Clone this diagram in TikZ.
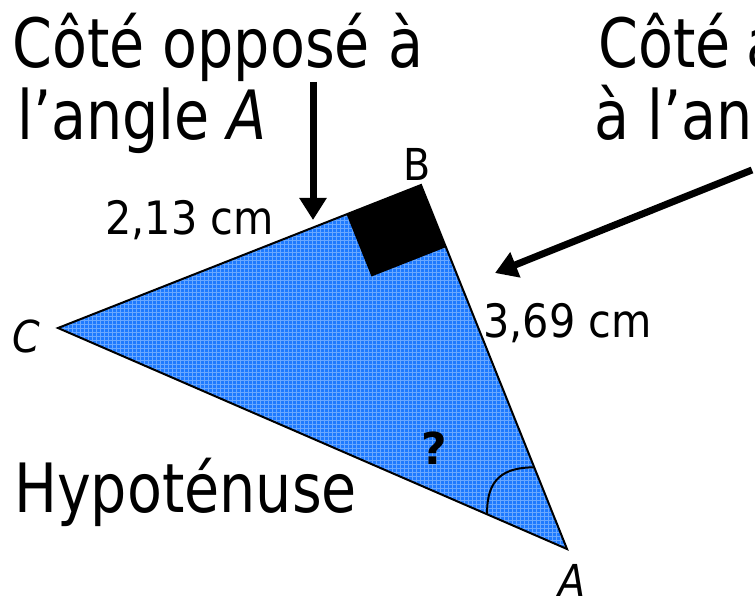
\documentclass[tikz,border=0pt]{standalone}
\usepackage{fontspec}
\setmainfont{DejaVu Sans}
\newfontfamily\csbig[FakeStretch=0.84]{DejaVu Sans}
\newfontfamily\cssmall[FakeStretch=0.9]{DejaVu Sans}
\usetikzlibrary{arrows.meta,calc}
\definecolor{triblue}{RGB}{30,122,255}
\definecolor{gridblue}{RGB}{105,168,255}
\begin{document}
\begin{tikzpicture}[x=1pt,y=-1pt,
  big/.style={font=\csbig\fontsize{68}{80}\selectfont, anchor=base west, inner sep=0pt},
  small/.style={font=\cssmall\fontsize{46}{54}\selectfont, anchor=base west, inner sep=0pt},
  vertex/.style={font=\cssmall\fontsize{44}{50}\selectfont, anchor=base west, inner sep=0pt},
  side/.style={line width=2pt, line join=miter},
  pointer/.style={line width=7pt, -{Triangle[length=22pt,width=26pt]}},
]
\useasboundingbox (0,0) rectangle (755,596);
\clip (0,0) rectangle (755,596);
% vertices
\coordinate (C) at (58,328);
\coordinate (B) at (421,185);
\coordinate (A) at (567,549);
% filled triangle with fine grid texture
\fill[triblue] (A) -- (B) -- (C) -- cycle;
\begin{scope}
  \clip (A) -- (B) -- (C) -- cycle;
  \draw[gridblue, line width=0.5pt] (0,0) grid[step=4pt] (755,596);
\end{scope}
% right angle mark
\coordinate (P1) at ($(B)!80pt!(C)$);
\coordinate (P3) at ($(B)!67pt!(A)$);
\coordinate (P2) at ($(P1)+(P3)-(B)$);
\fill[black] (B) -- (P1) -- (P2) -- (P3) -- cycle;
% outline
\draw[side] (A) -- (B) -- (C) -- cycle;
% angle mark at A
\coordinate (S) at ($(A)!87pt!(C)$);
\coordinate (E) at ($(A)!88pt!(B)$);
\draw[line width=2pt] (S) .. controls ($(S)+(-1,-36)$) and ($(E)+(-30,0)$) .. (E);
% labels
\node[big] (t1a) at (12,68) {Côté opposé à};
\node[big] (t1b) at (17,140) {l’angle \textit{A}};
\node[big] (t2a) at (598,68) {Côté\hspace{0.24em}a};
\node[big] (t2b) at (594,140) {à l’ang};
\node[big] (hyp) at (14,512) {Hypoténuse};
\node[small] (l213) at (105,235) {2,13 cm};
\node[small] (l369) at (483,337) {3,69 cm};
\node[vertex] (lB) at (403,181) {B};
\node[vertex] (lC) at (12,352) {\itshape C};
\node[vertex] (lA) at (558,596) {\itshape A};
\node[font=\bfseries\fontsize{44}{50}\selectfont, anchor=base west, inner sep=0pt] (q) at (421,464) {?};
% pointers
\coordinate (s1) at (313,82);
\coordinate (e1) at (313,220);
\draw[pointer] (s1) -- (e1);
\coordinate (s2) at (752,170);
\coordinate (e2) at (495,273);
\draw[pointer] (s2) -- (e2);
\end{tikzpicture}
\end{document}
